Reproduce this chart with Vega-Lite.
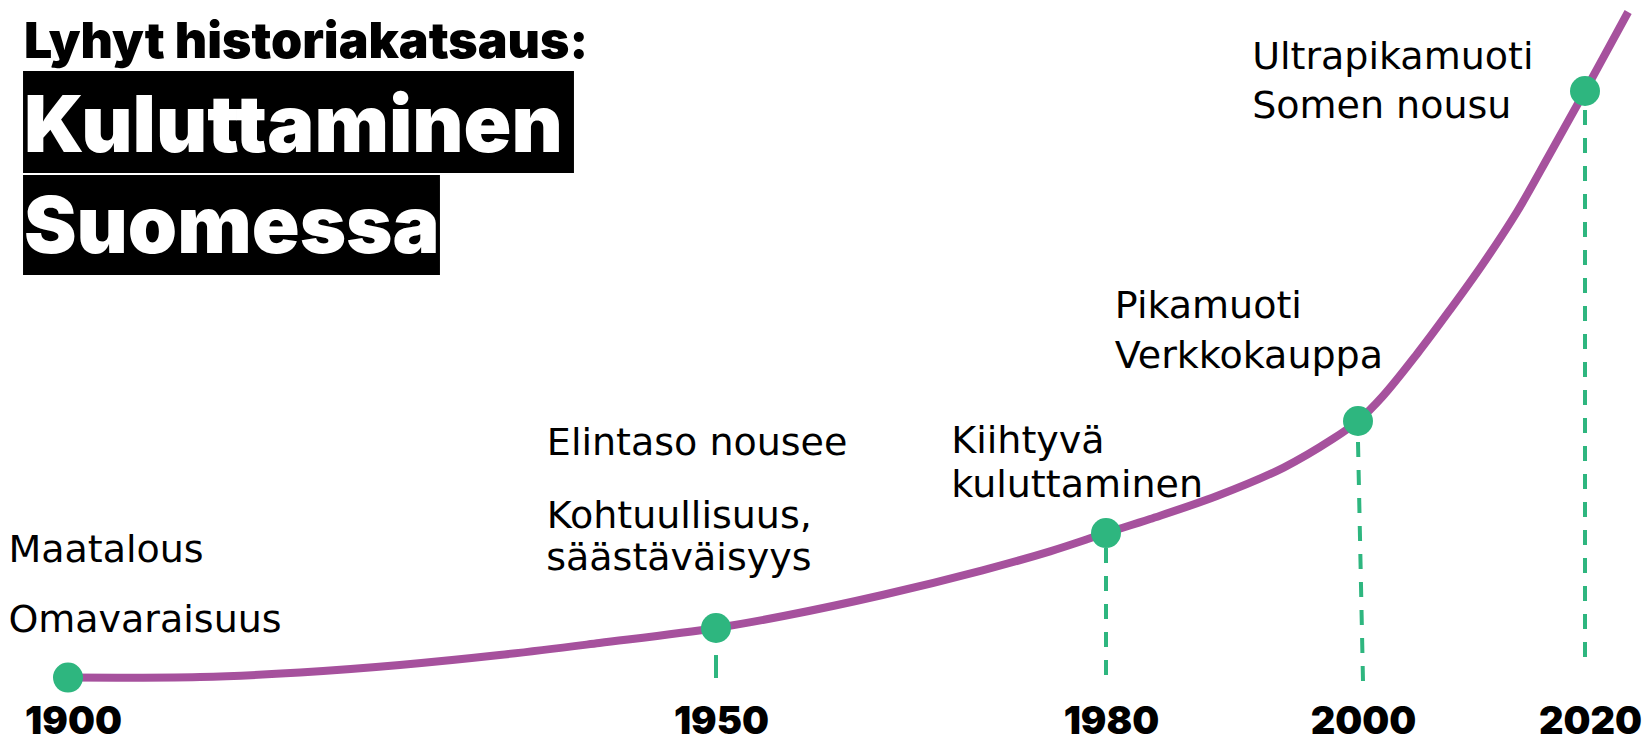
{
  "$schema": "https://vega.github.io/schema/vega-lite/v6.json",
  "width": 1648,
  "height": 743,
  "padding": 0,
  "autosize": {"type": "none"},
  "background": "white",
  "config": {"view": {"stroke": null}},
  "datasets": {
    "kayra": [
      {"vuosi": 1900, "taso": 8.8},
      {"vuosi": 1910.2, "taso": 8.88},
      {"vuosi": 1917.9, "taso": 9.49},
      {"vuosi": 1925.6, "taso": 10.5},
      {"vuosi": 1933.3, "taso": 11.84},
      {"vuosi": 1941.0, "taso": 13.46},
      {"vuosi": 1950, "taso": 15.48},
      {"vuosi": 1955.2, "taso": 17.09},
      {"vuosi": 1962.8, "taso": 19.92},
      {"vuosi": 1970.5, "taso": 23.24},
      {"vuosi": 1975.7, "taso": 25.8},
      {"vuosi": 1980, "taso": 28.26},
      {"vuosi": 1983.5, "taso": 30.15},
      {"vuosi": 1988.8, "taso": 33.24},
      {"vuosi": 1994.1, "taso": 37.07},
      {"vuosi": 1998.0, "taso": 40.92},
      {"vuosi": 2000, "taso": 43.34},
      {"vuosi": 2002.2, "taso": 46.7},
      {"vuosi": 2005.2, "taso": 52.36},
      {"vuosi": 2008.1, "taso": 58.28},
      {"vuosi": 2011.0, "taso": 64.47},
      {"vuosi": 2014.0, "taso": 71.47},
      {"vuosi": 2016.9, "taso": 79.27},
      {"vuosi": 2020, "taso": 87.75},
      {"vuosi": 2023.8, "taso": 98.38}
    ],
    "pisteet": [
      {"vuosi": 1900, "taso": 8.8},
      {"vuosi": 1950, "taso": 15.48},
      {"vuosi": 1980, "taso": 28.26},
      {"vuosi": 2000, "taso": 43.34},
      {"vuosi": 2020, "taso": 87.75}
    ],
    "viivat": [
      {"vuosi": 1980, "vuosi2": 1980, "taso": 26.24, "taso2": 8.88},
      {"vuosi": 2000, "vuosi2": 2000.44, "taso": 40.51, "taso2": 8.34},
      {"vuosi": 2020, "vuosi2": 2020, "taso": 85.19, "taso2": 10.09}
    ],
    "lyhyt": [
      {"vuosi": 1950, "vuosi2": 1950, "taso": 11.84, "taso2": 8.75}
    ],
    "tekstit": [
      {"teksti": "Maatalous", "vuosi": 1895.4, "taso": 24.36},
      {"teksti": "Omavaraisuus", "vuosi": 1895.4, "taso": 14.94},
      {"teksti": "Elintaso nousee", "vuosi": 1936.95, "taso": 38.76},
      {"teksti": "Kohtuullisuus,", "vuosi": 1936.95, "taso": 28.94},
      {"teksti": "säästäväisyys", "vuosi": 1936.9, "taso": 23.28},
      {"teksti": "Kiihtyvä", "vuosi": 1968.1, "taso": 39.03},
      {"teksti": "kuluttaminen", "vuosi": 1968.1, "taso": 33.11},
      {"teksti": "Pikamuoti", "vuosi": 1980.7, "taso": 57.2},
      {"teksti": "Verkkokauppa", "vuosi": 1980.7, "taso": 50.47},
      {"teksti": "Ultrapikamuoti", "vuosi": 1991.6, "taso": 90.71},
      {"teksti": "Somen nousu", "vuosi": 1991.6, "taso": 84.12}
    ],
    "laatikot": [
      {"vuosi": 1896.53, "vuosi2": 1939.04, "taso": 90.44, "taso2": 76.72},
      {"vuosi": 1896.53, "vuosi2": 1928.7, "taso": 76.45, "taso2": 62.99}
    ],
    "otsikko": [
      {"teksti": "Lyhyt historiakatsaus:", "vuosi": 1896.6, "taso": 92.19}
    ],
    "paaotsikko": [
      {"teksti": "Kuluttaminen", "vuosi": 1896.6, "taso": 79.48},
      {"teksti": "Suomessa", "vuosi": 1896.6, "taso": 65.95}
    ]
  },
  "encoding": {
    "x": {
      "field": "vuosi",
      "type": "quantitative",
      "scale": {"domain": [1900, 1950, 1980, 2000, 2020], "range": [68, 716, 1106, 1358, 1585], "nice": false, "zero": false},
      "axis": {
        "values": [1900, 1950, 1980, 2000, 2020],
        "format": "d",
        "title": null,
        "grid": false,
        "domain": false,
        "ticks": false,
        "labelFont": "Inter",
        "labelFontWeight": 900,
        "labelFontSize": 38,
        "labelColor": "#000000",
        "labelPadding": -10,
        "labelBaseline": "alphabetic",
        "labelOffset": 5,
        "labelFlush": false,
        "labelOverlap": false
      }
    },
    "y": {
      "field": "taso",
      "type": "quantitative",
      "scale": {"domain": [0, 100], "nice": false, "zero": false},
      "axis": null
    }
  },
  "layer": [
    {
      "data": {"name": "laatikot"},
      "mark": {"type": "rect", "color": "#000000"},
      "encoding": {"x2": {"field": "vuosi2"}, "y2": {"field": "taso2"}}
    },
    {
      "data": {"name": "otsikko"},
      "mark": {"type": "text", "align": "left", "baseline": "alphabetic", "font": "Inter", "fontWeight": 900, "fontSize": 50, "color": "#000000"},
      "encoding": {"text": {"field": "teksti"}}
    },
    {
      "data": {"name": "paaotsikko"},
      "mark": {"type": "text", "align": "left", "baseline": "alphabetic", "font": "Inter", "fontWeight": 900, "fontSize": 79, "color": "#ffffff"},
      "encoding": {"text": {"field": "teksti"}}
    },
    {
      "data": {"name": "viivat"},
      "mark": {"type": "rule", "color": "#2eb67f", "strokeWidth": 4, "strokeDash": [15, 13]},
      "encoding": {"x2": {"field": "vuosi2"}, "y2": {"field": "taso2"}}
    },
    {
      "data": {"name": "lyhyt"},
      "mark": {"type": "rule", "color": "#2eb67f", "strokeWidth": 4},
      "encoding": {"x2": {"field": "vuosi2"}, "y2": {"field": "taso2"}}
    },
    {
      "data": {"name": "kayra"},
      "mark": {"type": "line", "interpolate": "catmull-rom", "color": "#a6519d", "strokeWidth": 8},
      "encoding": {}
    },
    {
      "data": {"name": "pisteet"},
      "mark": {"type": "circle", "size": 900, "color": "#2eb67f", "opacity": 1},
      "encoding": {}
    },
    {
      "data": {"name": "tekstit"},
      "mark": {"type": "text", "align": "left", "baseline": "alphabetic", "font": "DejaVu Sans", "fontSize": 38, "color": "#000000"},
      "encoding": {"text": {"field": "teksti"}}
    }
  ]
}
